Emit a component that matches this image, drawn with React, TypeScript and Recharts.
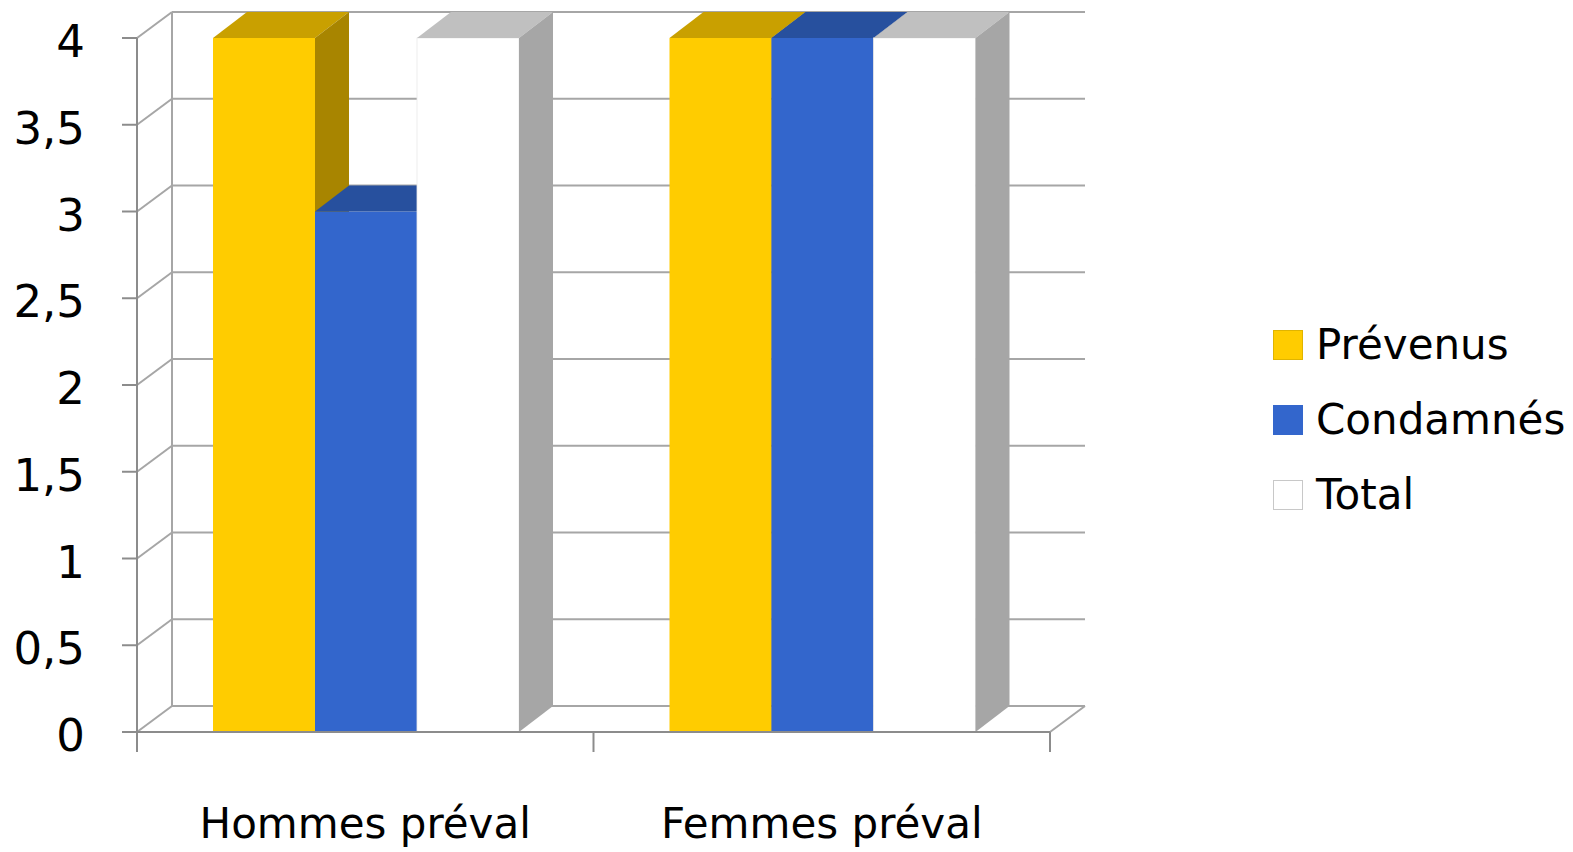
import React from "react";
import { BarChart, Bar, XAxis, YAxis, CartesianGrid } from "recharts";

const categories = ["Hommes préval", "Femmes préval"];
const prevenus = [4, 4];
const condamnes = [3, 4];
const total = [4, 4];
const seriesNames = ["Prévenus", "Condamnés", "Total"];
const yTicks = [0, 0.5, 1, 1.5, 2, 2.5, 3, 3.5, 4];

const data = categories.map((c, i) => ({
  name: c,
  prevenus: prevenus[i],
  condamnes: condamnes[i],
  total: total[i],
}));

const W = 1565;
const H = 844;
const M_TOP = 30;
const M_RIGHT = 523;
const Y_W = 129;
const X_H = 120;
const PLOT_LEFT = Y_W;
const PLOT_RIGHT = W - M_RIGHT;
const PLOT_TOP = M_TOP;
const PLOT_BOTTOM = H - X_H;
const BAND = (PLOT_RIGHT - PLOT_LEFT) / categories.length;
const DX = 35;
const DY = 26;
const FONT = "'DejaVu Sans', sans-serif";
const GRID = "#a6a6a6";
const AXIS = "#8c8c8c";

const colors = [
  { front: "#FFCC00", top: "#C9A000", side: "#A88500", legendStroke: "#e0b400" },
  { front: "#3366CC", top: "#27509E", side: "#1F4385", legendStroke: "#3366CC" },
  { front: "#FFFFFF", top: "#C0C0C0", side: "#A6A6A6", legendStroke: "#c8c8c8" },
];

const make3D = (c: { front: string; top: string; side: string }) => (props: any) => {
  const { x, y, width, height } = props;
  if (height == null || width == null) return <g />;
  const bx = 34;
  return (
    <g>
      <rect x={x} y={y} width={width} height={height} fill={c.front} stroke={c.front === "#FFFFFF" ? "#e8e8e8" : "none"} strokeWidth={0.8} />
      <polygon
        points={`${x},${y} ${x + width},${y} ${x + width + bx},${y - DY} ${x + bx},${y - DY}`}
        fill={c.top}
      />
      <polygon
        points={`${x + width},${y} ${x + width + bx},${y - DY} ${x + width + bx},${y + height - DY} ${x + width},${y + height}`}
        fill={c.side}
      />
    </g>
  );
};

const gridLine = (p: any) => {
  const { x1, x2, y1 } = p;
  const isTop = Math.abs(y1 - PLOT_TOP) < 1;
  const isBottom = Math.abs(y1 - PLOT_BOTTOM) < 1;
  return (
    <g key={p.key}>
      <line x1={x1} y1={y1} x2={x1 + DX} y2={y1 - DY} stroke={GRID} strokeWidth={2} />
      <line x1={x1 + DX} y1={y1 - DY} x2={x2 + DX} y2={y1 - DY} stroke={GRID} strokeWidth={2} />
      {isTop && (
        <line x1={x1 + DX} y1={y1 - DY} x2={x1 + DX} y2={PLOT_BOTTOM - DY} stroke={GRID} strokeWidth={2} />
      )}
      {isBottom && (
        <line x1={x2} y1={y1} x2={x2 + DX} y2={y1 - DY} stroke={GRID} strokeWidth={2} />
      )}
    </g>
  );
};

const YTick = (props: any) => {
  const { x, y, payload } = props;
  return (
    <text x={x} y={y} dy={19} textAnchor="end" fontFamily={FONT} fontSize={45} fill="#000">
      {String(payload.value).replace(".", ",")}
    </text>
  );
};

const XTick = (props: any) => {
  const { x, payload, index } = props;
  const left = x - BAND / 2;
  return (
    <g>
      <line x1={left} y1={PLOT_BOTTOM} x2={left} y2={PLOT_BOTTOM + 20} stroke={AXIS} strokeWidth={2} />
      {index === categories.length - 1 && (
        <line x1={x + BAND / 2} y1={PLOT_BOTTOM} x2={x + BAND / 2} y2={PLOT_BOTTOM + 20} stroke={AXIS} strokeWidth={2} />
      )}
      <text x={x} y={PLOT_BOTTOM + 106} textAnchor="middle" fontFamily={FONT} fontSize={42} fill="#000">
        {payload.value}
      </text>
    </g>
  );
};

const keys = ["prevenus", "condamnes", "total"];

export default function App() {
  return (
    <div style={{ position: "relative", width: W, height: H, fontFamily: FONT }}>
      <BarChart
        width={W}
        height={H}
        data={data}
        margin={{ top: M_TOP, right: M_RIGHT, left: 0, bottom: 0 }}
        barCategoryGap={76}
        barGap={0}
      >
        <CartesianGrid vertical={false} horizontal={gridLine} />
        <XAxis
          dataKey="name"
          height={X_H}
          axisLine={{ stroke: AXIS, strokeWidth: 2 }}
          tickLine={false}
          tick={<XTick />}
          interval={0}
        />
        <YAxis
          width={Y_W}
          domain={[0, 4]}
          ticks={yTicks}
          interval={0}
          axisLine={{ stroke: AXIS, strokeWidth: 2 }}
          tickLine={{ stroke: AXIS, strokeWidth: 2 }}
          tickSize={15}
          tickMargin={37}
          tick={<YTick />}
        />
        {keys.map((k, i) => (
          <Bar
            key={k}
            dataKey={k}
            name={seriesNames[i]}
            fill={colors[i].front}
            isAnimationActive={false}
            shape={make3D(colors[i])}
          />
        ))}
      </BarChart>
      <div style={{ position: "absolute", left: 1265, top: 322 }}>
        {seriesNames.map((n, i) => (
          <div key={n} style={{ display: "flex", alignItems: "center", height: 30, marginBottom: 45 }}>
            <div
              style={{
                width: 30,
                height: 30,
                boxSizing: "border-box",
                background: colors[i].front,
                border: `1px solid ${colors[i].legendStroke}`,
              }}
            />
            <span style={{ marginLeft: 13, fontSize: 42, lineHeight: "30px", color: "#000", whiteSpace: "nowrap" }}>{n}</span>
          </div>
        ))}
      </div>
    </div>
  );
}
